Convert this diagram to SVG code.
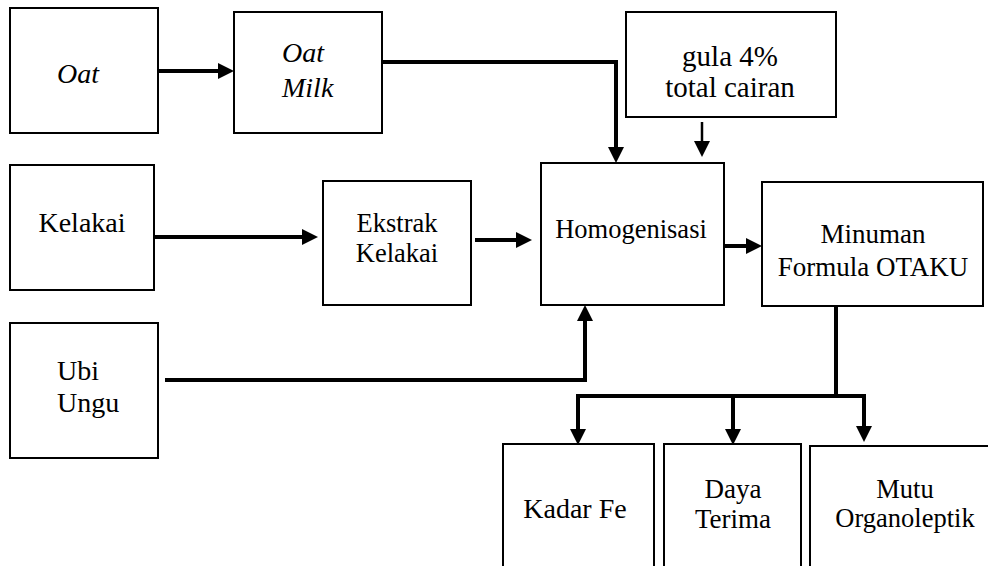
<svg xmlns="http://www.w3.org/2000/svg" width="988" height="566" viewBox="0 0 988 566">
<style>
.box{fill:#fff;stroke:#000;stroke-width:2}
.t{fill:#000;font-family:Tinos,"Times New Roman",Times,"Liberation Serif","Noto Serif",FreeSerif,"DejaVu Serif",serif}
.c{stroke:#000;stroke-width:4;fill:none}
.thin{stroke-width:2.5}
</style>
<defs>
<marker id="ah" markerUnits="userSpaceOnUse" markerWidth="17" markerHeight="16" refX="1" refY="8" orient="auto">
<path d="M0,0 L16,8 L0,16 Z" fill="#000"/>
</marker>
</defs>
<rect width="988" height="566" fill="#fff"/>
<g id="connectors">
<path class="c" d="M158,71 H219" marker-end="url(#ah)"/>
<path class="c" d="M382,62 H616 V148" marker-end="url(#ah)"/>
<path class="c thin" d="M702,122 V142" marker-end="url(#ah)"/>
<path class="c" d="M154,237 H303" marker-end="url(#ah)"/>
<path class="c" d="M475,240 H517" marker-end="url(#ah)"/>
<path class="c" d="M724,246 H747" marker-end="url(#ah)"/>
<path class="c" d="M165,380 H585 V320" marker-end="url(#ah)"/>
<path class="c" d="M836,306 V396"/>
<path class="c" d="M576,396 H866"/>
<path class="c" d="M578,396 V430" marker-end="url(#ah)"/>
<path class="c" d="M733,396 V430" marker-end="url(#ah)"/>
<path class="c" d="M864,396 V427" marker-end="url(#ah)"/>
</g>
<g id="oat"><rect class="box" x="10" y="8" width="148" height="125"/>
<text class="t" x="78" y="83" font-size="28" font-style="italic" text-anchor="middle">Oat</text></g>
<g id="oatmilk"><rect class="box" x="234" y="12" width="148" height="121"/>
<text class="t" x="282" y="62" font-size="28" font-style="italic">Oat</text>
<text class="t" x="282" y="97" font-size="28" font-style="italic">Milk</text></g>
<g id="gula"><rect class="box" x="626" y="12" width="210" height="105"/>
<text class="t" x="730" y="66" font-size="29" text-anchor="middle">gula 4%</text>
<text class="t" x="730" y="97" font-size="29" text-anchor="middle">total cairan</text></g>
<g id="kelakai"><rect class="box" x="10" y="165" width="144" height="125"/>
<text class="t" x="82" y="232" font-size="28" text-anchor="middle">Kelakai</text></g>
<g id="ekstrak"><rect class="box" x="323" y="181" width="148" height="124"/>
<text class="t" x="397" y="232" font-size="26.5" text-anchor="middle">Ekstrak</text>
<text class="t" x="397" y="262" font-size="26.5" text-anchor="middle">Kelakai</text></g>
<g id="homogenisasi"><rect class="box" x="541" y="163" width="183" height="142"/>
<text class="t" x="631" y="238" font-size="26.5" text-anchor="middle">Homogenisasi</text></g>
<g id="minuman"><rect class="box" x="762" y="182" width="221" height="124"/>
<text class="t" x="873" y="243" font-size="27" text-anchor="middle">Minuman</text>
<text class="t" x="873" y="276" font-size="27" text-anchor="middle">Formula OTAKU</text></g>
<g id="ubiungu"><rect class="box" x="10" y="323" width="148" height="135"/>
<text class="t" x="57" y="380" font-size="28">Ubi</text>
<text class="t" x="57" y="412" font-size="28">Ungu</text></g>
<g id="kadarfe"><rect class="box" x="503" y="444" width="151" height="140"/>
<text class="t" x="575" y="518" font-size="28" text-anchor="middle">Kadar Fe</text></g>
<g id="dayaterima"><rect class="box" x="664" y="444" width="137" height="140"/>
<text class="t" x="733" y="498" font-size="27" text-anchor="middle">Daya</text>
<text class="t" x="733" y="528" font-size="27" text-anchor="middle">Terima</text></g>
<g id="mutu"><rect class="box" x="810" y="446" width="200" height="140"/>
<text class="t" x="905" y="498" font-size="26.5" text-anchor="middle">Mutu</text>
<text class="t" x="905" y="527" font-size="26.5" text-anchor="middle">Organoleptik</text></g>
</svg>
